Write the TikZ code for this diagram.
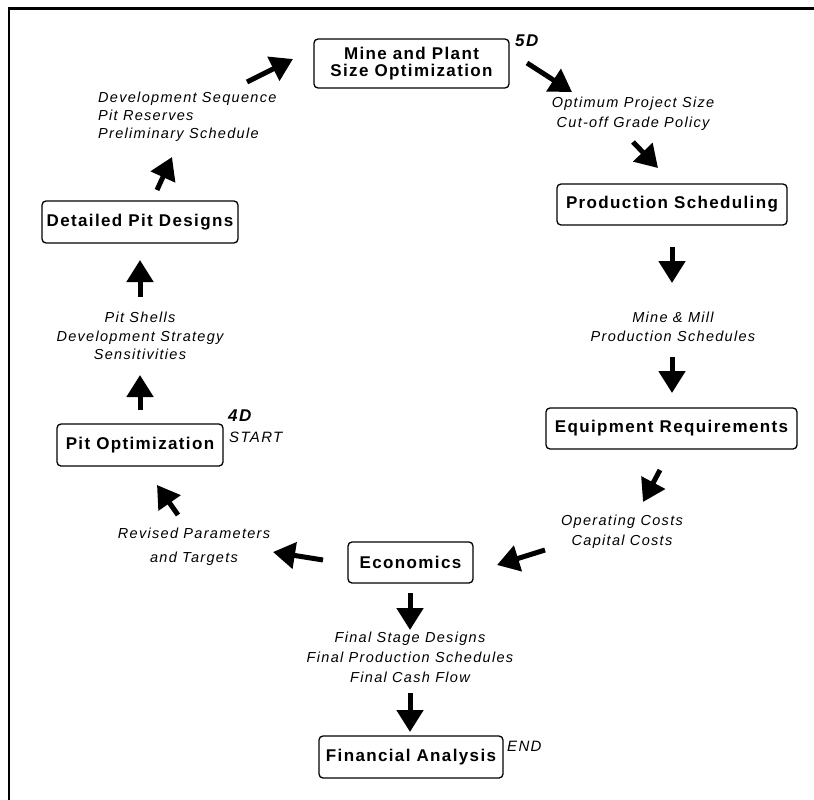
\documentclass[tikz,border=0pt]{standalone}
\usepackage{fontspec}
\setmainfont{Liberation Sans}
\newfontfamily\boxfont[LetterSpace=8]{Liberation Sans}
\newfontfamily\labfont[LetterSpace=9]{Liberation Sans}
\usetikzlibrary{arrows.meta}
\begin{document}
\begin{tikzpicture}[x=1pt,y=-1pt,
  stage/.style={draw, line width=1.3pt, rounded corners=4pt,
    font=\boxfont\bfseries\fontsize{17}{17}\selectfont,
    align=center, inner sep=0pt, minimum height=41pt},
  lab/.style={font=\labfont\itshape\fontsize{14.5}{#1}\selectfont,
    align=center, inner sep=0pt, anchor=north},
  lab/.default=19,
  tag/.style={font=\labfont\itshape\fontsize{15}{15}\selectfont, inner sep=0pt, anchor=north west},
  btag/.style={font=\labfont\bfseries\itshape\fontsize{17}{17}\selectfont, inner sep=0pt, anchor=north west},
  big/.style={line width=5pt, -{Triangle[length=22pt,width=26pt]}},
  ]
\fill[white] (0,0) rectangle (814,800);
\useasboundingbox (0,0) rectangle (814,800);
\draw[line width=2.5pt] (814,8.5) -- (9,8.5) -- (9,800);

% boxes
\node[stage, minimum width=195pt, minimum height=49pt] (mine) at (411.5,63.5) {Mine and Plant\\Size Optimization};
\node[stage, minimum width=230pt] (prod) at (672,204.5) {Production Scheduling};
\node[stage, minimum width=251pt] (equip) at (671.5,428.5) {Equipment Requirements};
\node[stage, minimum width=125pt] (econ) at (410.5,562.5) {Economics};
\node[stage, minimum width=184pt, minimum height=42pt] (fin) at (411,757) {Financial Analysis};
\node[stage, minimum width=166pt, minimum height=42pt] (pitopt) at (140,445) {Pit Optimization};
\node[stage, minimum width=196pt, minimum height=42pt] (detail) at (140,222) {Detailed Pit Designs};

% tags
\node[btag] (t5d) at (515,35) {5D};
\node[btag] (t4d) at (228,410) {4D};
\node[tag] (tstart) at (229,432) {START};
\node[tag] (tend) at (507,741) {END};

% labels
\node[lab=18, anchor=north west, align=left] (dev) at (98,92) {Development Sequence\\Pit Reserves\\Preliminary Schedule};
\node[lab=20] (opt) at (633,97) {Optimum Project Size\\Cut-off Grade Policy};
\node[lab=18.5] (mm) at (673,312) {Mine \& Mill\\Production Schedules};
\node[lab=19.5] (oper) at (622,515) {Operating Costs\\Capital Costs};
\node[lab=24] (rev) at (194,528) {Revised Parameters\\and Targets};
\node[lab=20] (final) at (410,632) {Final Stage Designs\\Final Production Schedules\\Final Cash Flow};
\node[lab=18.5] (shells) at (140,312) {Pit Shells\\Development Strategy\\Sensitivities};

% arrow end points
\coordinate (a1s) at (247,82);  \coordinate (a1e) at (293,59);
\coordinate (a2s) at (527,63);  \coordinate (a2e) at (572,92);
\coordinate (a3s) at (633,142); \coordinate (a3e) at (658,168);
\coordinate (a4s) at (672,247); \coordinate (a4e) at (672,283);
\coordinate (a5s) at (672,357); \coordinate (a5e) at (672,393);
\coordinate (a6s) at (660,470); \coordinate (a6e) at (643,502);
\coordinate (a7s) at (545,550); \coordinate (a7e) at (497,565);
\coordinate (a8s) at (323,560); \coordinate (a8e) at (273,552);
\coordinate (a9s) at (178,515); \coordinate (a9e) at (157,485);
\coordinate (a10s) at (140,410); \coordinate (a10e) at (140,375);
\coordinate (a11s) at (140,297); \coordinate (a11e) at (140,260);
\coordinate (a12s) at (157,190); \coordinate (a12e) at (172,157);
\coordinate (a13s) at (410,593); \coordinate (a13e) at (410,630);
\coordinate (a14s) at (410,693); \coordinate (a14e) at (410,732);

\draw[big] (a1s) -- (a1e);
\draw[big] (a2s) -- (a2e);
\draw[big] (a3s) -- (a3e);
\draw[big] (a4s) -- (a4e);
\draw[big] (a5s) -- (a5e);
\draw[big] (a6s) -- (a6e);
\draw[big] (a7s) -- (a7e);
\draw[big] (a8s) -- (a8e);
\draw[big] (a9s) -- (a9e);
\draw[big] (a10s) -- (a10e);
\draw[big] (a11s) -- (a11e);
\draw[big] (a12s) -- (a12e);
\draw[big] (a13s) -- (a13e);
\draw[big] (a14s) -- (a14e);
\end{tikzpicture}
\end{document}
